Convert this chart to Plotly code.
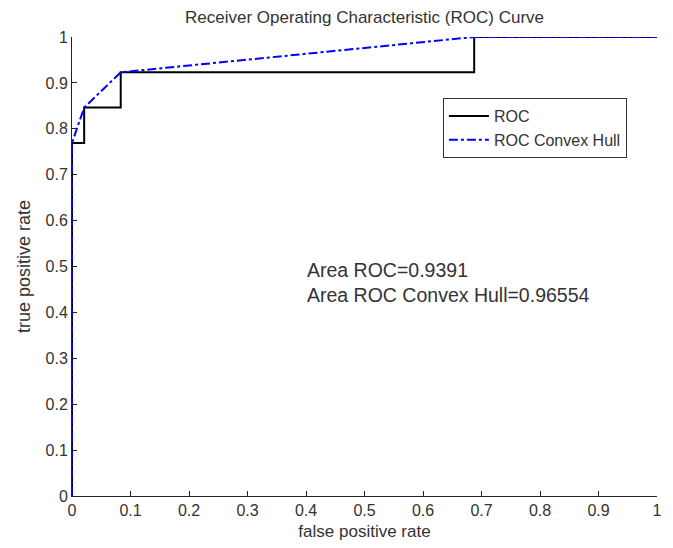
import plotly.graph_objects as go

# ROC step curve (false positive rate, true positive rate)
roc_fpr = [0.0, 0.0, 0.0208, 0.0208, 0.0833, 0.0833, 0.6875, 0.6875, 1.0]
roc_tpr = [0.0, 0.7692, 0.7692, 0.8462, 0.8462, 0.9231, 0.9231, 1.0, 1.0]

# ROC convex hull
hull_fpr = [0.0, 0.0, 0.0208, 0.0833, 0.6875, 1.0]
hull_tpr = [0.0, 0.7692, 0.8462, 0.9231, 1.0, 1.0]

tick_vals = [0, 0.1, 0.2, 0.3, 0.4, 0.5, 0.6, 0.7, 0.8, 0.9, 1]
tick_text = ["0", "0.1", "0.2", "0.3", "0.4", "0.5", "0.6", "0.7", "0.8", "0.9", "1"]

area_roc = "0.9391"
area_hull = "0.96554"

FONT = "Liberation Sans, Arial, sans-serif"
TXT = "#333"

fig = go.Figure()
fig.add_trace(go.Scatter(x=roc_fpr, y=roc_tpr, mode="lines", name="ROC",
                         line=dict(color="black", width=2)))
fig.add_trace(go.Scatter(x=hull_fpr, y=hull_tpr, mode="lines", name="ROC Convex Hull",
                         line=dict(color="#0000ff", width=2, dash="dashdot")))

axis_common = dict(range=[0, 1], tickvals=tick_vals, ticktext=tick_text,
                   ticks="inside", ticklen=5, tickcolor="#222", tickwidth=1,
                   showline=True, linecolor="#222", linewidth=1,
                   showgrid=False, zeroline=False, mirror=False,
                   tickfont=dict(family=FONT, size=16, color=TXT))

fig.update_layout(
    width=673, height=548,
    margin=dict(l=72, r=16, t=37, b=52),
    paper_bgcolor="white", plot_bgcolor="white",
    font=dict(family=FONT, color=TXT),
    title=dict(text="Receiver Operating Characteristic (ROC) Curve",
               x=(72 + 657) / 2 / 673, xanchor="center", y=1 - 17 / 548, yanchor="middle",
               font=dict(family=FONT, size=17, color=TXT)),
    xaxis=dict(axis_common, title=dict(text="false positive rate", standoff=6,
                                       font=dict(family=FONT, size=17, color=TXT))),
    yaxis=dict(axis_common, title=dict(text="true positive rate", standoff=10,
                                       font=dict(family=FONT, size=18, color=TXT))),
    legend=dict(x=0.634, y=0.867, xanchor="left", yanchor="top",
                bgcolor="white", bordercolor="#333", borderwidth=1,
                font=dict(family=FONT, size=16, color=TXT),
                tracegroupgap=0, itemwidth=40),
    showlegend=True,
)

fig.add_annotation(x=0.398, y=0.466, xref="paper", yref="paper",
                   xanchor="left", yanchor="middle", align="left", showarrow=False,
                   text=f"Area ROC={area_roc}<br>Area ROC Convex Hull={area_hull}",
                   font=dict(family=FONT, size=19.5, color=TXT))

fig.write_html("out.html")
